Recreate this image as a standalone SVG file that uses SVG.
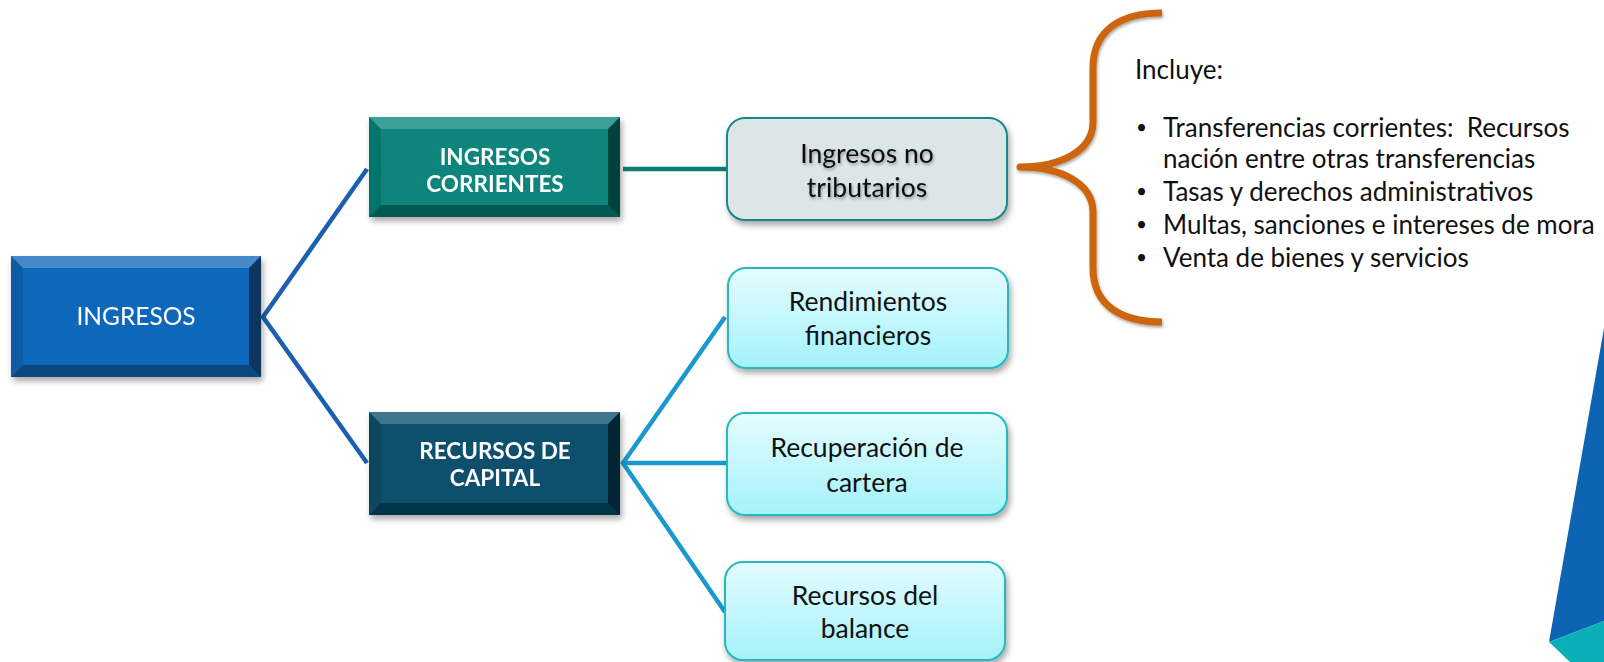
<svg xmlns="http://www.w3.org/2000/svg" width="1604" height="662" viewBox="0 0 1604 662">
<style>
.lbl{font-family:Lato,"Open Sans","Liberation Sans",sans-serif;font-size:26.5px;text-anchor:middle}
.main{font-size:24.5px}
.w{fill:#ffffff}
.b{font-weight:bold;font-size:22.5px}
.dk{fill:#111111}
.list{font-family:Lato,"Open Sans","Liberation Sans",sans-serif;font-size:26px;fill:#111111}
.bul{font-size:19px}
.bt{fill:#ffffff;opacity:0.22}
.bb{fill:#000000;opacity:0.32}
.br{fill:#000000;opacity:0.5}
.bl{fill:#000000;opacity:0.12}
.rb{stroke-width:2}
.conn{fill:none;stroke-width:4.5;stroke-linecap:butt;stroke-linejoin:miter}
</style>
<defs>
<linearGradient id="cy" x1="0" y1="0" x2="0" y2="1">
<stop offset="0" stop-color="#e4fcff"/>
<stop offset="1" stop-color="#a4f2fa"/>
</linearGradient>
<filter id="sh" x="-10%" y="-10%" width="125%" height="130%">
<feGaussianBlur in="SourceAlpha" stdDeviation="3"/>
<feOffset dx="2" dy="4" result="o"/>
<feComponentTransfer><feFuncA type="linear" slope="0.35"/></feComponentTransfer>
<feMerge><feMergeNode/><feMergeNode in="SourceGraphic"/></feMerge>
</filter>
<filter id="ts" x="-10%" y="-20%" width="120%" height="150%">
<feGaussianBlur in="SourceAlpha" stdDeviation="1.5"/>
<feOffset dx="1" dy="2"/>
<feComponentTransfer><feFuncA type="linear" slope="0.35"/></feComponentTransfer>
<feMerge><feMergeNode/><feMergeNode in="SourceGraphic"/></feMerge>
</filter>
</defs>
<rect x="0" y="0" width="1604" height="662" fill="#ffffff"/>

<g id="decor">
<polygon points="1604,328 1549,642 1604,621" fill="#0d64b3"/>
<polygon points="1549,642 1604,621 1604,662 1570,662" fill="#0aafb8"/>
</g>

<g id="connectors">
<polyline class="conn" stroke="#1a5fb0" points="367,169 263,317 367,463"/>
<line class="conn" stroke="#0f7b76" x1="623" y1="169" x2="727" y2="169"/>
<polyline class="conn" stroke="#1b98cf" points="725,317 623,463 725,612"/>
<line class="conn" stroke="#1b98cf" x1="623" y1="463" x2="727" y2="463"/>
</g>

<g id="node-ingresos" filter="url(#sh)">
<rect x="11" y="256" width="250" height="121" fill="#1168bb"/>
<polygon class="bt" points="11,256 261,256 249,268 23,268"/>
<polygon class="bb" points="11,377 261,377 249,365 23,365"/>
<polygon class="br" points="261,256 249,268 249,365 261,377"/>
<polygon class="bl" points="11,256 23,268 23,365 11,377"/>
<text class="lbl main w" x="136" y="325">INGRESOS</text>
</g>

<g id="node-corrientes" filter="url(#sh)">
<rect x="369" y="117" width="251" height="100" fill="#07857b"/>
<polygon class="bt" points="369,117 620,117 608,129 381,129"/>
<polygon class="bb" points="369,217 620,217 608,205 381,205"/>
<polygon class="br" points="620,117 608,129 608,205 620,217"/>
<polygon class="bl" points="369,117 381,129 381,205 369,217"/>
<text class="lbl w b" x="495" y="165">INGRESOS</text>
<text class="lbl w b" x="495" y="192">CORRIENTES</text>
</g>

<g id="node-capital" filter="url(#sh)">
<rect x="369" y="412" width="251" height="103" fill="#0a506d"/>
<polygon class="bt" points="369,412 620,412 608,424 381,424"/>
<polygon class="bb" points="369,515 620,515 608,503 381,503"/>
<polygon class="br" points="620,412 608,424 608,503 620,515"/>
<polygon class="bl" points="369,412 381,424 381,503 369,515"/>
<text class="lbl w b" x="495" y="459">RECURSOS DE</text>
<text class="lbl w b" x="495" y="486">CAPITAL</text>
</g>

<g id="node-no-tributarios">
<rect class="rb" x="727" y="118" width="280" height="102" rx="18" fill="#dce6e6" stroke="#168a85" filter="url(#sh)"/>
<g filter="url(#ts)">
<text class="lbl dk" x="867" y="163">Ingresos no</text>
<text class="lbl dk" x="867" y="197">tributarios</text>
</g>
</g>

<g id="node-rendimientos">
<rect class="rb" x="728" y="268" width="280" height="100" rx="18" fill="url(#cy)" stroke="#25b8bb" filter="url(#sh)"/>
<text class="lbl dk" x="868" y="311">Rendimientos</text>
<text class="lbl dk" x="868" y="345">financieros</text>
</g>

<g id="node-recuperacion">
<rect class="rb" x="727" y="413" width="280" height="102" rx="18" fill="url(#cy)" stroke="#25b8bb" filter="url(#sh)"/>
<text class="lbl dk" x="867" y="457">Recuperación de</text>
<text class="lbl dk" x="867" y="492">cartera</text>
</g>

<g id="node-balance">
<rect class="rb" x="725" y="562" width="280" height="98" rx="18" fill="url(#cy)" stroke="#25b8bb" filter="url(#sh)"/>
<text class="lbl dk" x="865" y="605">Recursos del</text>
<text class="lbl dk" x="865" y="638">balance</text>
</g>

<g id="node-incluye">
<path d="M1162,13 C1118,13 1093,32 1093,68 L1093,122 C1093,150 1062,167 1020,167 C1062,167 1093,184 1093,212 L1093,268 C1093,303 1118,322 1162,322" fill="none" stroke="#cc6508" stroke-width="7" stroke-linejoin="round" filter="url(#ts)"/>
<text class="list" x="1135" y="79">Incluye:</text>
<text class="list bul" x="1136" y="134">•</text>
<text class="list" x="1163" y="137">Transferencias corrientes:&#160; Recursos</text>
<text class="list" x="1163" y="168">nación entre otras transferencias</text>
<text class="list bul" x="1136" y="198">•</text>
<text class="list" x="1163" y="201">Tasas y derechos administrativos</text>
<text class="list bul" x="1136" y="231">•</text>
<text class="list" x="1163" y="234">Multas, sanciones e intereses de mora</text>
<text class="list bul" x="1136" y="264">•</text>
<text class="list" x="1163" y="267">Venta de bienes y servicios</text>
</g>
</svg>
